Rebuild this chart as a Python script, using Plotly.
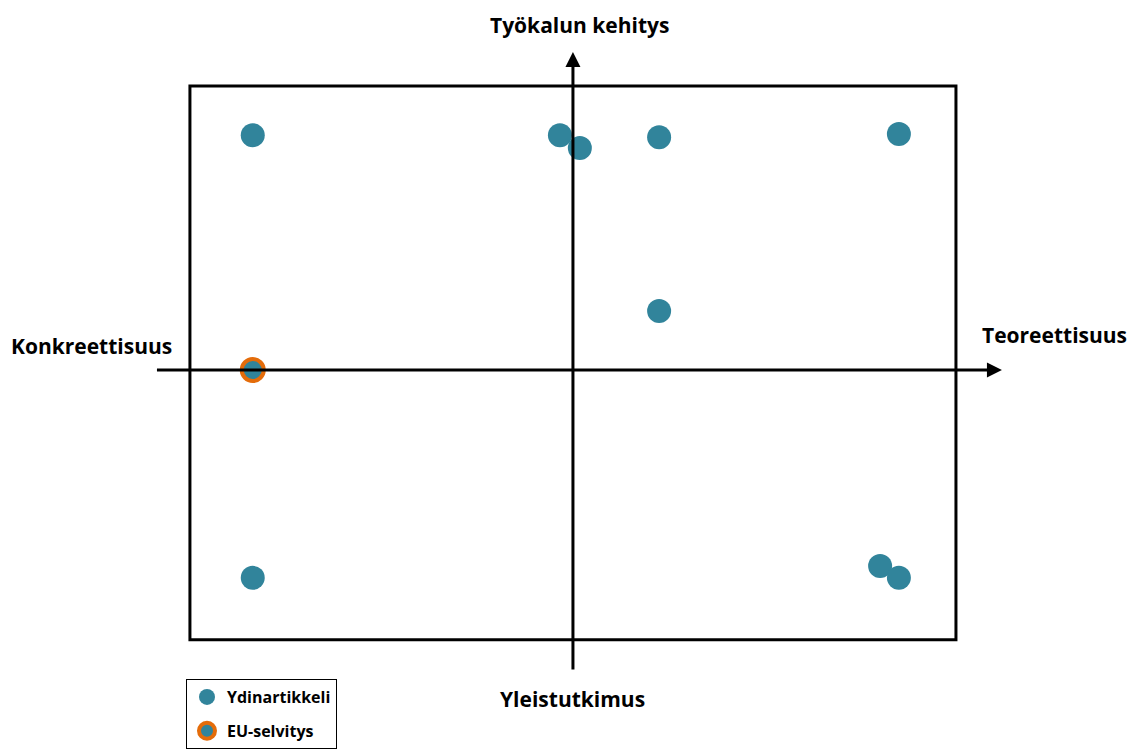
import plotly.graph_objects as go

# article positions on the concreteness/theory (x) and general/tool (y) plane
core_x = [-8.36, -0.34, 0.18, 2.25, 8.51, 2.25, -8.36, 8.02, 8.51]
core_y = [8.27, 8.27, 7.82, 8.2, 8.31, 2.08, -7.32, -6.9, -7.32]
eu_x = [-8.36]
eu_y = [0.0]

teal = '#31849B'
orange = '#E46C0A'

fig = go.Figure()

fig.add_trace(go.Scatter(
    x=core_x, y=core_y, mode='markers', name='Ydinartikkeli', legendgroup='a',
    marker=dict(size=24, color=teal, line=dict(width=0)),
))
fig.add_trace(go.Scatter(
    x=eu_x, y=eu_y, mode='markers', name='EU-selvitys', legendgroup='b',
    marker=dict(size=22, color=teal, line=dict(width=4, color=orange)),
))

# frame
fig.add_shape(type='rect', x0=-10, x1=10, y0=-9.5, y1=10,
              line=dict(color='black', width=3), layer='below')

# axis arrows
fig.add_annotation(x=11.2, y=0, ax=-10.9, ay=0, xref='x', yref='y', axref='x', ayref='y',
                   showarrow=True, arrowhead=2, arrowsize=1, arrowwidth=3, arrowcolor='black', text='')
fig.add_annotation(x=0, y=11.2, ax=0, ay=-10.6, xref='x', yref='y', axref='x', ayref='y',
                   showarrow=True, arrowhead=2, arrowsize=1, arrowwidth=3, arrowcolor='black', text='')

lbl = dict(family='Open Sans', size=21, color='black')
fig.add_annotation(x=0.18, y=12.15, text='<b>Työkalun kehitys</b>', showarrow=False, font=lbl)
fig.add_annotation(x=0.0, y=-11.6, text='<b>Yleistutkimus</b>', showarrow=False, font=lbl)
fig.add_annotation(x=-12.56, y=0.85, text='<b>Konkreettisuus</b>', showarrow=False, font=lbl)
fig.add_annotation(x=12.58, y=1.23, text='<b>Teoreettisuus</b>', showarrow=False, font=lbl)

fig.update_layout(
    width=1141, height=751,
    margin=dict(l=0, r=0, t=0, b=0),
    plot_bgcolor='white', paper_bgcolor='white',
    xaxis=dict(range=[-14.75, 15.04], visible=False),
    yaxis=dict(range=[-13.70, 12.75], visible=False),
    showlegend=True,
    legend=dict(x=0.156, y=0.1065, xanchor='left', yanchor='top',
                bordercolor='black', borderwidth=1, tracegroupgap=10,
                font=dict(family='Open Sans', size=16, color='black', weight='bold')),
)

fig.write_html("out.html")
